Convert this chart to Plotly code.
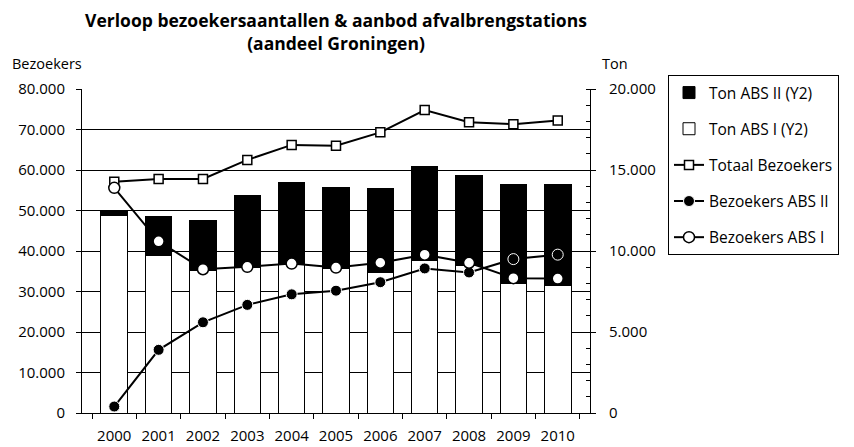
import plotly.graph_objects as go

years = ["2000", "2001", "2002", "2003", "2004", "2005", "2006", "2007", "2008", "2009", "2010"]
ton_abs1 = [12200, 9750, 8800, 9000, 9250, 8900, 8650, 9400, 9100, 8000, 7850]
ton_abs2 = [300, 2400, 3100, 4400, 4950, 5000, 5200, 5800, 5550, 6100, 6250]
totaal_bez = [57100, 57800, 57800, 62500, 66200, 66000, 69300, 74800, 71800, 71300, 72200]
bez_abs2 = [1600, 15600, 22400, 26700, 29300, 30200, 32300, 35700, 34700, 38000, 39100]
bez_abs1 = [55600, 42400, 35500, 36100, 36900, 35900, 37100, 39100, 37100, 33300, 33200]

FONT = "Open Sans"

fig = go.Figure()

# Bars on the primary (right-side) ton axis so that lines are drawn above them
fig.add_trace(go.Bar(x=years, y=ton_abs1, name="Ton ABS I (Y2)", legendrank=2,
                     marker=dict(color="white", line=dict(color="black", width=1)),
                     yaxis="y"))
fig.add_trace(go.Bar(x=years, y=ton_abs2, name="Ton ABS II (Y2)", legendrank=1,
                     marker=dict(color="black", line=dict(color="black", width=1)),
                     yaxis="y"))

fig.add_trace(go.Scatter(x=years, y=totaal_bez, name="Totaal Bezoekers", legendrank=3,
                         mode="lines+markers", yaxis="y2",
                         line=dict(color="black", width=2),
                         marker=dict(symbol="square", size=9, color="white",
                                     line=dict(color="black", width=1.5))))
fig.add_trace(go.Scatter(x=years, y=bez_abs2, name="Bezoekers ABS II", legendrank=4,
                         mode="lines+markers", yaxis="y2",
                         line=dict(color="black", width=2),
                         marker=dict(symbol="circle", size=11, color="black",
                                     line=dict(color="white", width=1))))
fig.add_trace(go.Scatter(x=years, y=bez_abs1, name="Bezoekers ABS I", legendrank=5,
                         mode="lines+markers", yaxis="y2",
                         line=dict(color="black", width=2),
                         marker=dict(symbol="circle", size=11, color="white",
                                     line=dict(color="black", width=1.5))))

fig.update_layout(
    width=854, height=447,
    margin=dict(l=82, r=264, t=89, b=34, autoexpand=False),
    paper_bgcolor="white", plot_bgcolor="white",
    separators=",.",
    barmode="stack", bargap=0.4,
    font=dict(family=FONT, size=15, color="black"),
    title=dict(text="<b>Verloop bezoekersaantallen & aanbod afvalbrengstations<br>(aandeel Groningen)</b>",
               x=(82 + 590) / 2 / 854, xanchor="center", y=1 - 27 / 447, yanchor="top",
               font=dict(family=FONT, size=17.5, color="black")),
    xaxis=dict(type="category", showline=True, linecolor="black", linewidth=1,
               ticks="outside", ticklen=5, tickcolor="black", tickson="boundaries",
               showgrid=False, tickfont=dict(size=15), ticklabelstandoff=9,
               automargin=False),
    yaxis=dict(side="right", range=[0, 20000], dtick=5000, tickformat=",d",
               showline=True, linecolor="black", linewidth=1,
               ticks="outside", ticklen=5, tickcolor="black",
               minor=dict(dtick=1000, ticks="inside", ticklen=4, tickcolor="black", showgrid=False),
               showgrid=False, zeroline=False, ticklabelstandoff=10,
               tickfont=dict(size=15), automargin=False),
    yaxis2=dict(side="left", overlaying="y", range=[0, 80000], dtick=10000, tickformat=",d",
                showline=True, linecolor="black", linewidth=1,
                ticks="outside", ticklen=5, tickcolor="black",
                showgrid=True, gridcolor="black", gridwidth=1, zeroline=False,
                ticklabelstandoff=8, tickfont=dict(size=15), automargin=False),
    legend=dict(x=(668 - 82) / 508, xanchor="left", y=(413 - 75) / 324, yanchor="top",
                bordercolor="black", borderwidth=1, bgcolor="white",
                font=dict(family=FONT, size=15.5), tracegroupgap=13,
                itemsizing="trace"),
    annotations=[
        dict(text="Bezoekers", xref="paper", yref="paper", x=(10 - 82) / 508, y=(413 - 63) / 324,
             xanchor="left", yanchor="middle", showarrow=False, font=dict(size=14.5)),
        dict(text="Ton", xref="paper", yref="paper", x=(600 - 82) / 508, y=(413 - 63) / 324,
             xanchor="left", yanchor="middle", showarrow=False, font=dict(size=14.5)),
    ],
)

# separate legend groups so the tracegroupgap spaces the entries
for i, tr in enumerate(fig.data):
    tr.legendgroup = f"g{i}"

fig.write_html("out.html", config={"displayModeBar": False},
               post_script="document.body.style.margin='0';document.body.style.overflow='hidden';")
